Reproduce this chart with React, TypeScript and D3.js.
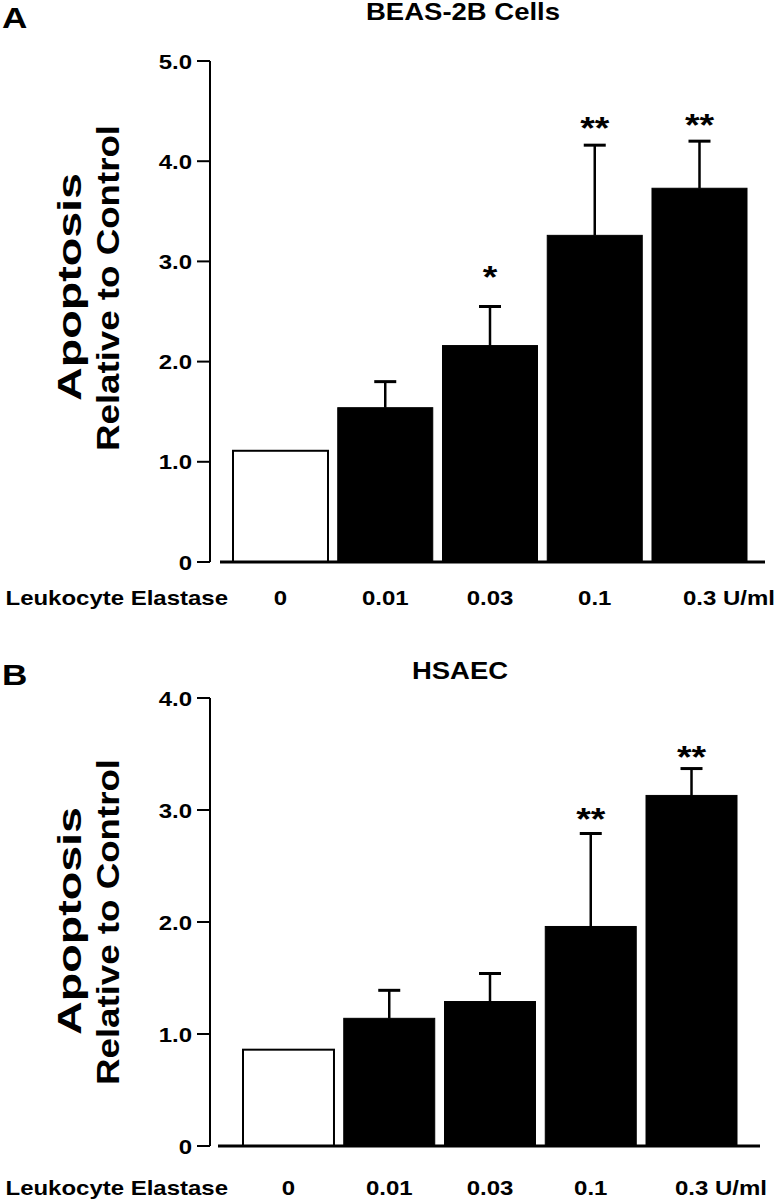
import React from "react";
import * as d3 from "d3";

// ---- data ----
const categories = ["0", "0.01", "0.03", "0.1", "0.3"];
const unitLabel = " U/ml";
const xAxisTitle = "Leukocyte Elastase";
const yTitleLine1 = "Apoptosis";
const yTitleLine2 = "Relative to Control";

const beasTitle = "BEAS-2B Cells";
const beasMeans = [1.11, 1.54, 2.16, 3.26, 3.73];
const beasUpper = [null, 1.8, 2.55, 4.16, 4.2];
const beasStars = ["", "", "*", "**", "**"];
const beasStarLevel = [0, 0, 2.91, 4.4, 4.43];
const beasTicks = [0, 1, 2, 3, 4, 5];

const hsaecTitle = "HSAEC";
const hsaecMeans = [0.86, 1.14, 1.29, 1.96, 3.13];
const hsaecUpper = [null, 1.39, 1.54, 2.79, 3.37];
const hsaecStars = ["", "", "", "**", "**"];
const hsaecStarLevel = [0, 0, 0, 2.98, 3.54];
const hsaecTicks = [0, 1, 2, 3, 4];

const FONT = "'Liberation Sans', Arial, Helvetica, sans-serif";
const SX = 1.17;

function SText({ x, y, size, anchor = "start", children }: any) {
  return (
    <text
      transform={`translate(${x},${y}) scale(${SX},1)`}
      fontSize={size}
      textAnchor={anchor}
      fontFamily={FONT}
      fontWeight="bold"
      fill="#000"
    >
      {children}
    </text>
  );
}

function Panel({ cfg }: any) {
  const y = d3.scaleLinear().domain([0, cfg.yMax]).range([cfg.y0, cfg.yTop]);
  const x = d3
    .scaleBand()
    .domain(categories)
    .range([cfg.xStart, cfg.xEnd])
    .paddingInner(cfg.pad)
    .paddingOuter(0);
  const bw = x.bandwidth();
  const axisX = 210;
  const fmt = (v: number) => (v === 0 ? "0" : d3.format(".1f")(v));
  return (
    <g>
      <SText x={2} y={cfg.letterY} size={30}>{cfg.letter}</SText>
      <SText x={cfg.titleX} y={cfg.titleY} size={23.5} anchor="middle">{cfg.title}</SText>
      {/* y axis title */}
      <text
        transform={`translate(81,${cfg.yTitleC}) rotate(-90)`}
        fontSize={33}
        fontFamily={FONT}
        fontWeight="bold"
        textAnchor="middle"
        textLength={228}
        lengthAdjust="spacingAndGlyphs"
      >
        {yTitleLine1}
      </text>
      <text
        transform={`translate(119,${cfg.yTitleC + 1}) rotate(-90)`}
        fontSize={32}
        fontFamily={FONT}
        fontWeight="bold"
        textAnchor="middle"
        textLength={326}
        lengthAdjust="spacingAndGlyphs"
      >
        {yTitleLine2}
      </text>
      {/* axis */}
      <line x1={axisX} x2={axisX} y1={y(cfg.yMax)} y2={y(0)} stroke="#000" strokeWidth={2} />
      {cfg.ticks.map((t: number) => (
        <g key={t}>
          <line x1={axisX - 13} x2={axisX} y1={y(t)} y2={y(t)} stroke="#000" strokeWidth={2} />
          <SText x={192} y={y(t) + 7.5} size={20.5} anchor="end">{fmt(t)}</SText>
        </g>
      ))}
      {/* bars */}
      {cfg.means.map((m: number, i: number) => {
        const c = categories[i];
        const x0 = x(c)!;
        const filled = i > 0;
        return (
          <rect
            key={c}
            x={x0}
            y={y(m)}
            width={bw}
            height={y(0) - y(m)}
            fill={filled ? "#000" : "#fff"}
            stroke="#000"
            strokeWidth={filled ? 1 : 2}
          />
        );
      })}
      {/* error bars */}
      {cfg.upper.map((u: number | null, i: number) => {
        if (u == null) return null;
        const cx = x(categories[i])! + bw / 2;
        return (
          <g key={i}>
            <line x1={cx} x2={cx} y1={y(cfg.means[i])} y2={y(u)} stroke="#000" strokeWidth={2.5} />
            <line x1={cx - 11} x2={cx + 11} y1={y(u)} y2={y(u)} stroke="#000" strokeWidth={3} />
          </g>
        );
      })}
      {/* stars */}
      {cfg.stars.map((s: string, i: number) =>
        s ? (
          <SText key={i} x={x(categories[i])! + bw / 2} y={y(cfg.starLevel[i]) + 18} size={32} anchor="middle">
            {s}
          </SText>
        ) : null
      )}
      {/* baseline */}
      <line x1={cfg.baseL} x2={cfg.baseR} y1={y(0)} y2={y(0)} stroke="#000" strokeWidth={3} />
      {/* category labels */}
      <SText x={5.5} y={cfg.labelY} size={20.5}>{xAxisTitle}</SText>
      {categories.map((c, i) => {
        const cx = x(c)! + bw / 2;
        if (i === categories.length - 1) {
          return (
            <SText key={c} x={cx - 16.5} y={cfg.labelY} size={20.5}>
              {c + unitLabel}
            </SText>
          );
        }
        return (
          <SText key={c} x={cx} y={cfg.labelY} size={20.5} anchor="middle">
            {c}
          </SText>
        );
      })}
    </g>
  );
}

export default function App() {
  const panelA = {
    letter: "A",
    letterY: 28,
    title: beasTitle,
    titleX: 463,
    titleY: 20,
    yMax: 5,
    y0: 562,
    yTop: 61,
    yTitleC: 287,
    ticks: beasTicks,
    means: beasMeans,
    upper: beasUpper,
    stars: beasStars,
    starLevel: beasStarLevel,
    xStart: 233,
    xEnd: 747,
    pad: 0.093,
    baseL: 220,
    baseR: 765,
    labelY: 605,
  };
  const panelB = {
    letter: "B",
    letterY: 685,
    title: hsaecTitle,
    titleX: 460,
    titleY: 679,
    yMax: 4,
    y0: 1146,
    yTop: 698,
    yTitleC: 921,
    ticks: hsaecTicks,
    means: hsaecMeans,
    upper: hsaecUpper,
    stars: hsaecStars,
    starLevel: hsaecStarLevel,
    xStart: 243,
    xEnd: 737,
    pad: 0.097,
    baseL: 218,
    baseR: 760,
    labelY: 1195,
  };
  return (
    <svg
      width={781}
      height={1199}
      style={{ position: "absolute", left: 0, top: 0, background: "#fff" }}
    >
      <rect width={781} height={1199} fill="#fff" />
      <Panel cfg={panelA} />
      <Panel cfg={panelB} />
    </svg>
  );
}
